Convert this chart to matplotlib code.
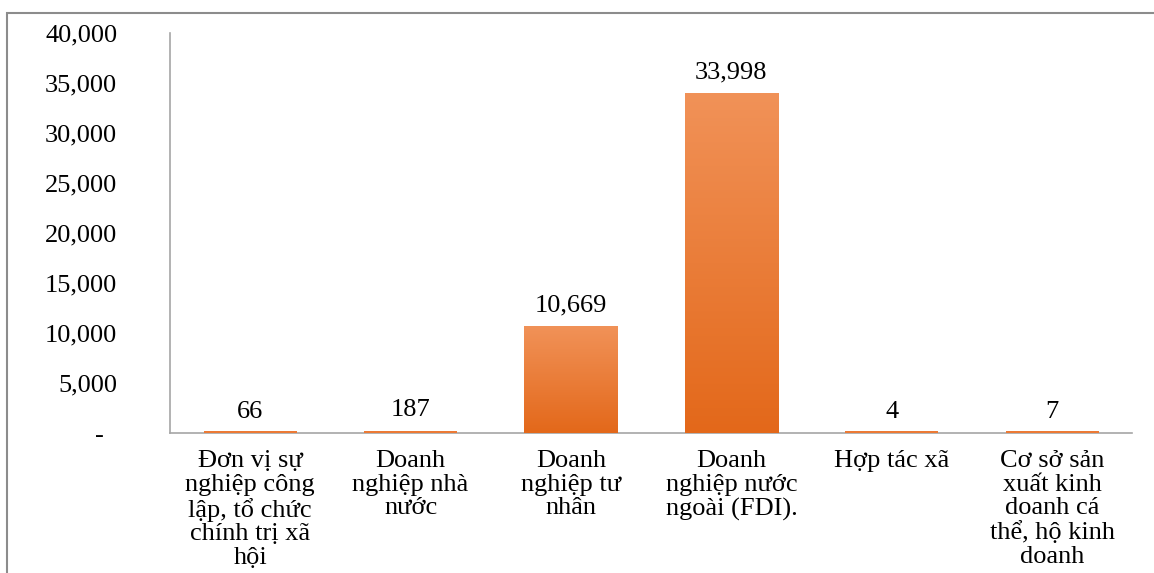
import matplotlib
matplotlib.use("Agg")
import matplotlib.pyplot as plt
import matplotlib.ticker as ticker
from matplotlib.colors import LinearSegmentedColormap
from matplotlib.patches import Rectangle
import numpy as np

categories = [
    "Đơn vị sự\nnghiệp công\nlập, tổ chức\nchính trị xã\nhội",
    "Doanh\nnghiệp nhà\nnước",
    "Doanh\nnghiệp tư\nnhân",
    "Doanh\nnghiệp nước\nngoài (FDI).",
    "Hợp tác xã",
    "Cơ sở sản\nxuất kinh\ndoanh cá\nthể, hộ kinh\ndoanh",
]
values = [66, 187, 10669, 33998, 4, 7]
yticks = [0, 5000, 10000, 15000, 20000, 25000, 30000, 35000, 40000]

plt.rcParams['font.family'] = ['Liberation Serif', 'DejaVu Serif']
fs = 19

fig = plt.figure(figsize=(11.54, 5.73), dpi=100)
ax = fig.add_axes([0.1473, 0.2443, 0.834, 0.698])

# outer chart border (only top/left visible in the crop)
fig.patches.append(Rectangle((7 / 1154, -0.1), 1.2, 1 - 13 / 573 + 0.1,
                             transform=fig.transFigure, fill=False,
                             edgecolor='#8c8c8c', lw=1.5))

cmap = LinearSegmentedColormap.from_list('og', ['#e3681a', '#f19258'])
grad = np.linspace(0, 1, 256).reshape(-1, 1)
width = 0.58
x = np.arange(len(values))
# tiny bars still show as a thin orange line on the axis
ax.bar(x, [max(v, 220) for v in values], width=width, color='#ec7a35', zorder=3)
for xi, v in zip(x, values):
    if v > 1000:
        ax.imshow(grad, extent=(xi - width / 2, xi + width / 2, 0, v), origin='lower',
                  aspect='auto', cmap=cmap, zorder=3.1)
    ax.annotate(f"{v:,}", (xi, v), xytext=(0, 7), textcoords='offset points',
                ha='center', va='bottom', fontsize=fs)

ax.set_xlim(-0.5, len(values) - 0.5)
ax.set_ylim(0, 40000)
ax.set_yticks(yticks)
ax.yaxis.set_major_formatter(ticker.FuncFormatter(lambda v, p: f"{int(v):,}" if v else "-  "))
ax.set_xticks(x)
ax.set_xticklabels(categories, linespacing=1.09)
ax.tick_params(axis='y', length=0, pad=38, labelsize=fs)
ax.tick_params(axis='x', length=0, pad=12.5, labelsize=fs)
for s in ['top', 'right']:
    ax.spines[s].set_visible(False)
for s in ['left', 'bottom']:
    ax.spines[s].set_color('#a6a6a6')
    ax.spines[s].set_linewidth(1.2)

fig.savefig("out.png", dpi=100)
